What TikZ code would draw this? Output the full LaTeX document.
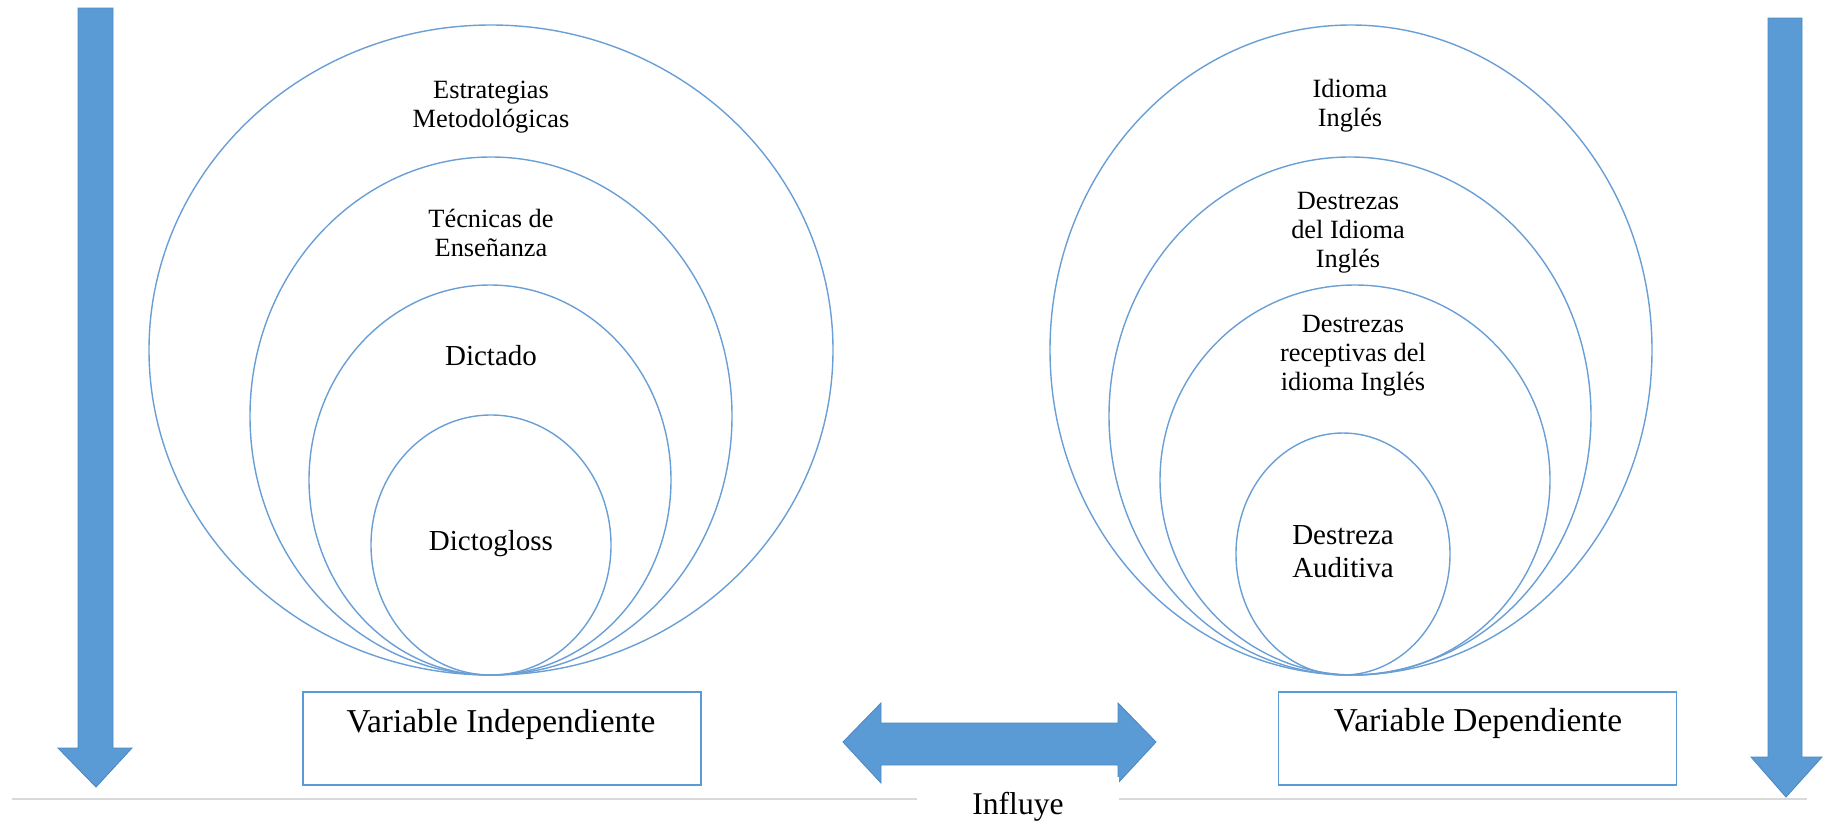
\documentclass[tikz,border=0pt]{standalone}
\usepackage{fontspec}
\setmainfont{Liberation Serif}
\definecolor{OfficeBlue}{HTML}{5B9BD5}
\definecolor{ArrowEdge}{HTML}{4F88C2}
\definecolor{RingBlue}{HTML}{6A9FD6}
\definecolor{RuleGray}{HTML}{D9D9D9}

\begin{document}
\begin{tikzpicture}
[
x=0.02cm, y=-0.02cm,
Ring/.style={draw=RingBlue, line width=0.8pt},
BlockArrow/.style={fill=OfficeBlue, draw=ArrowEdge, line width=0.5pt, line join=miter},
LabelBox/.style={rectangle, draw=OfficeBlue, line width=0.8pt, fill=white, minimum width=7.96cm, minimum height=1.86cm},
BoxText/.style={inner sep=0pt, font=\fontsize{19}{22}\selectfont},
RingText/.style={align=center, inner sep=0pt, font=\fontsize{15}{16.5}\selectfont},
BigRingText/.style={align=center, inner sep=0pt, font=\fontsize{16.5}{18.8}\selectfont},
GrayLine/.style={draw=RuleGray, line width=0.6pt},
Caption/.style={rectangle, fill=white, minimum width=4.06cm, minimum height=1.2cm, font=\fontsize{18}{20}\selectfont},
]

\useasboundingbox (0,0) rectangle (1833,822);

%\draw[red] (0,0) rectangle (1833,822);
\draw[GrayLine] (12,799)--(1807,799);

% left rings
\draw[Ring] (491,350) ellipse (342 and 325);
\draw[Ring] (491,416) ellipse (241 and 259);
\draw[Ring] (490,480) ellipse (181 and 195);
\draw[Ring] (491,545) ellipse (120 and 130);

% right rings
\draw[Ring] (1351,350) ellipse (301 and 325);
\draw[Ring] (1350,416) ellipse (241 and 259);
\draw[Ring] (1355,480) ellipse (195 and 195);
\draw[Ring] (1343,554) ellipse (107 and 121);

\node[RingText] (estrat) at (491,107) {Estrategias\\Metodológicas};
\node[RingText] (tecnic) at (491,233) {Técnicas de\\Enseñanza};
\node[BigRingText] (dictado) at (491,356) {Dictado};
\node[BigRingText] (glosa) at (491,544) {Dictogloss};

\node[RingText] (idioma) at (1350,106) {Idioma\\Inglés};
\node[RingText] (destr) at (1348,233) {Destrezas\\del Idioma\\Inglés};
\node[RingText] (recep) at (1353,356) {Destrezas\\receptivas del\\idioma Inglés};
\node[BigRingText] (audit) at (1343,552) {Destreza\\Auditiva};

% down arrows
\draw[BlockArrow] (78,8)--(113,8)--(113,748)--(132,748)--(96,787)--(58,748)--(78,748)--cycle;
\draw[BlockArrow] (1768,18)--(1802,18)--(1802,757)--(1822,757)--(1786,797)--(1751,757)--(1768,757)--cycle;

% influye arrow
\draw[BlockArrow] (843,742)--(881,703)--(881,723)--(1118,723)--(1118,703)--(1156,742)
    --(1118,783)--(1118,765)--(881,765)--(881,783)--cycle;

\node[LabelBox] (indep) at (502,738.5) {};
\node[BoxText] (indepTxt) at (501,724) {Variable Independiente};
\node[LabelBox] (dep) at (1477.5,738.5) {};
\node[BoxText] (depTxt) at (1478,723) {Variable Dependiente};

\node[Caption] (influye) at (1018,807) {Influye};

\end{tikzpicture}
\end{document}
